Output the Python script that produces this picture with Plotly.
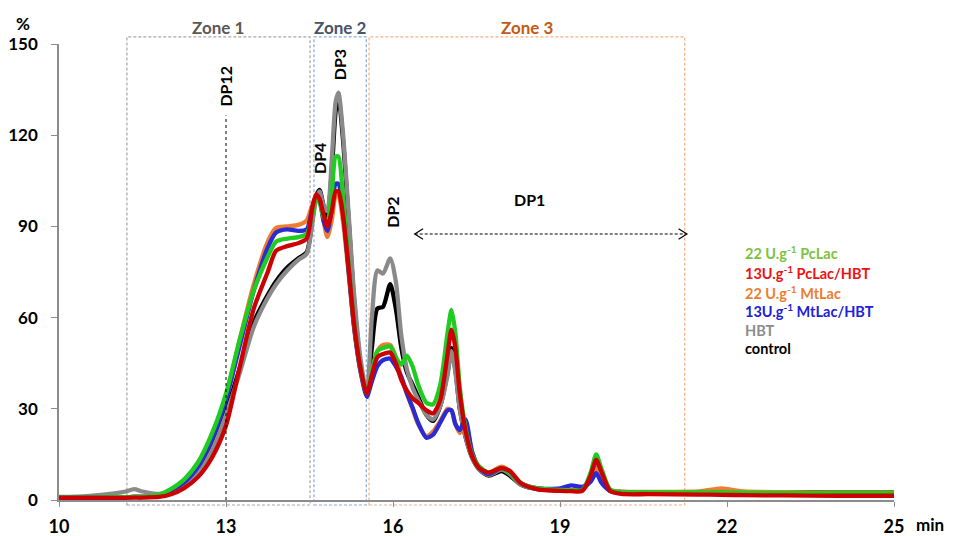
import plotly.graph_objects as go

# ---------------- data ----------------
time_min = [10.0, 10.5, 11.0, 11.2, 11.35, 11.5, 11.8, 12.0, 12.25, 12.5, 12.75, 13.0, 13.25, 13.5,
            13.75, 13.9, 14.1, 14.3, 14.45, 14.55, 14.62, 14.68, 14.75, 14.82, 14.9, 14.97, 15.02,
            15.1, 15.2, 15.3, 15.42, 15.53, 15.62, 15.72, 15.82, 15.95, 16.05, 16.15, 16.25, 16.35,
            16.45, 16.6, 16.72, 16.85, 16.98, 17.05, 17.12, 17.2, 17.3, 17.42, 17.55, 17.72, 17.95,
            18.1, 18.3, 18.6, 19.0, 19.2, 19.4, 19.55, 19.65, 19.75, 19.9, 20.1, 20.6, 21.5, 21.9,
            22.3, 23.0, 24.0, 25.0]

hbt = [1.0, 1.3, 2.2, 2.8, 3.6, 2.8, 2.0, 2.6, 5.0, 9.0, 16.5, 28.0, 42.0, 57.0,
       66.5, 71.0, 75.5, 79.0, 81.0, 91.0, 99.0, 101.5, 97.0, 95.0, 112.0, 131.0, 134.0,
       121.0, 95.0, 68.0, 46.0, 35.0, 60.0, 75.5, 74.5, 79.5, 72.0, 54.0, 43.0, 37.0,
       33.0, 28.0, 26.5, 31.0, 41.0, 49.0, 42.0, 30.0, 21.0, 14.0, 10.0, 8.2, 10.0,
       8.5, 5.0, 3.7, 3.3, 3.2, 3.3, 7.0, 11.0, 8.0, 3.0, 2.5, 2.5, 2.4, 2.4,
       2.4, 2.3, 2.3, 2.3]

control = [0.8, 0.8, 0.9, 0.9, 1.0, 1.0, 1.3, 2.2, 4.8, 9.5, 17.0, 29.0, 43.5, 58.5,
           67.5, 72.0, 76.5, 79.5, 81.5, 92.0, 100.0, 102.0, 97.0, 93.0, 108.0, 128.0, 132.5,
           119.0, 93.0, 66.0, 44.0, 34.0, 50.0, 63.0, 63.5, 71.0, 63.0, 50.0, 42.0, 38.0,
           34.0, 28.0, 26.0, 31.0, 42.0, 50.0, 43.0, 30.0, 21.0, 14.0, 10.0, 8.0, 9.5,
           8.0, 5.0, 3.6, 3.3, 3.2, 3.3, 7.0, 11.5, 8.0, 3.0, 2.7, 2.6, 2.5, 2.5,
           2.5, 2.6, 2.6, 2.6]

mtlac = [0.8, 0.8, 0.9, 0.9, 1.0, 1.0, 1.4, 3.2, 6.2, 11.5, 21.0, 34.0, 53.0, 71.0,
         85.0, 89.5, 90.0, 90.5, 92.0, 97.0, 100.0, 99.0, 92.0, 86.5, 92.0, 100.0, 100.0,
         92.0, 75.0, 57.0, 42.0, 35.0, 42.0, 49.0, 51.0, 51.0, 47.0, 40.0, 35.0, 30.0,
         25.0, 21.0, 22.5, 26.0, 30.0, 29.5, 25.0, 22.0, 26.0, 15.5, 10.5, 9.0, 11.0,
         9.5, 5.5, 3.8, 3.3, 3.2, 3.3, 6.5, 10.0, 7.0, 3.0, 2.7, 2.7, 2.8, 3.8,
         2.8, 2.6, 2.5, 2.5]

mtlac_hbt = [0.8, 0.8, 0.9, 0.9, 1.0, 1.0, 1.4, 3.0, 5.8, 11.0, 20.0, 33.0, 51.0, 69.0,
             83.0, 88.0, 89.0, 88.5, 89.0, 96.0, 100.0, 99.0, 92.0, 88.5, 96.0, 104.0, 104.0,
             95.0, 76.0, 57.0, 42.0, 34.0, 39.0, 44.0, 46.0, 46.5, 44.0, 40.5, 35.0, 30.5,
             25.5, 20.5, 21.5, 25.5, 29.5, 29.5, 25.0, 23.0, 26.5, 16.0, 10.5, 8.5, 10.5,
             9.0, 5.5, 3.8, 3.8, 4.8, 4.3, 6.0, 8.8, 5.5, 3.0, 2.4, 2.3, 2.3, 2.3,
             2.2, 2.1, 2.0, 2.0]

pclac = [0.8, 0.8, 0.9, 0.9, 1.0, 1.0, 1.8, 3.5, 6.8, 12.5, 22.0, 35.0, 53.0, 69.0,
         80.0, 85.0, 86.0, 86.5, 87.5, 94.0, 99.0, 98.0, 93.0, 92.0, 101.0, 113.0, 113.0,
         100.0, 78.0, 58.0, 43.0, 35.0, 42.0, 49.0, 50.0, 50.5, 47.0, 44.5, 47.5, 44.0,
         38.0, 32.0, 31.5, 38.0, 55.0, 62.5, 55.0, 37.0, 24.0, 15.0, 11.0, 9.0, 10.5,
         9.0, 5.5, 3.8, 3.3, 3.2, 3.3, 9.0, 15.0, 10.0, 3.5, 2.6, 2.5, 2.5, 2.5,
         2.4, 2.3, 2.3, 2.3]

pclac_hbt = [0.7, 0.7, 0.7, 0.7, 0.8, 0.8, 1.0, 1.8, 3.9, 7.6, 14.0, 24.5, 44.0, 63.0,
             75.0, 82.0, 83.5, 84.5, 86.0, 96.0, 100.5, 99.0, 94.0, 90.0, 95.0, 101.5, 101.5,
             94.0, 77.0, 58.0, 43.0, 35.0, 41.0, 47.0, 48.0, 48.5, 45.0, 39.5, 36.0, 33.5,
             32.0, 29.5, 28.5, 33.0, 48.0, 56.0, 50.0, 35.0, 23.0, 14.5, 10.5, 9.0, 10.5,
             9.5, 5.5, 3.5, 3.0, 2.9, 3.0, 8.0, 13.2, 9.0, 3.0, 2.0, 1.9, 1.8, 1.7,
             1.6, 1.5, 1.4, 1.4]

# drawing order: first is at the bottom
series_names = ["control", "HBT", "22 U.g<sup>-1</sup> MtLac", "13U.g<sup>-1</sup> MtLac/HBT",
                "22 U.g<sup>-1</sup> PcLac", "13U.g<sup>-1</sup> PcLac/HBT"]
series_values = [control, hbt, mtlac, mtlac_hbt, pclac, pclac_hbt]
line_colors = ["#000000", "#8a8a8a", "#ed7d31", "#2b2bd6", "#1fcc1f", "#cc0000"]

legend_order = [4, 5, 2, 3, 1, 0]
legend_text_colors = {0: "#000000", 1: "#8c8c8c", 2: "#ed7d31", 3: "#2020d8", 4: "#7cc242", 5: "#ee1111"}

x_ticks = [10, 13, 16, 19, 22, 25]
y_ticks = [0, 30, 60, 90, 120, 150]

zones = [("Zone 1", 11.22, 14.51, "#a6a6a6", "#595959"),
         ("Zone 2", 14.58, 15.52, "#8eaadb", "#44546a"),
         ("Zone 3", 15.57, 21.24, "#f4b183", "#c55a11")]

dp_labels = [("DP12", 13.0, 136.0, -90), ("DP3", 15.03, 143.0, -90), ("DP4", 14.67, 112.5, -90),
             ("DP2", 16.0, 94.5, -90), ("DP1", 18.46, 98.7, 0)]

FONT = "Lato"

fig = go.Figure()
for name, vals, col in zip(series_names, series_values, line_colors):
    fig.add_trace(go.Scatter(x=time_min, y=vals, mode="lines", name=name,
                             line=dict(color=col, width=4.3, shape="spline", smoothing=0.7),
                             showlegend=False, hoverinfo="x+y+name"))

for label, x0, x1, lc, tc in zones:
    fig.add_shape(type="rect", xref="x", yref="paper", x0=x0, x1=x1, y0=-0.011, y1=1.0155,
                  line=dict(color=lc, width=1.2, dash="3px,2px"), layer="below")
    fig.add_annotation(x=(x0 + x1) / 2, xref="x", y=1.037, yref="paper", text="<b>%s</b>" % label,
                       showarrow=False, font=dict(family=FONT, size=17, color=tc),
                       xanchor="center", yanchor="middle")

fig.add_shape(type="line", xref="x", yref="y", x0=13.0, x1=13.0, y0=0, y1=126.5,
              line=dict(color="#000000", width=1, dash="dot"))

fig.add_shape(type="line", xref="x", yref="y", x0=16.39, x1=21.28, y0=87.5, y1=87.5,
              line=dict(color="#000000", width=1.2, dash="3px,2px"))
fig.add_shape(type="path", xref="x", yref="y",
              path="M 16.54 89.2 L 16.39 87.5 L 16.54 85.8", line=dict(color="#000000", width=1.2))
fig.add_shape(type="path", xref="x", yref="y",
              path="M 21.13 89.2 L 21.28 87.5 L 21.13 85.8", line=dict(color="#000000", width=1.2))

for txt, xx, yy, ang in dp_labels:
    fig.add_annotation(x=xx, y=yy, xref="x", yref="y", text="<b>%s</b>" % txt, showarrow=False,
                       textangle=ang, font=dict(family=FONT, size=16, color="#000000"),
                       xanchor="center", yanchor="middle")

legend_y = [81.3, 75.0, 68.4, 62.2, 55.9, 49.7]
for yy, idx in zip(legend_y, legend_order):
    fig.add_annotation(x=22.28, y=yy, xref="x", yref="y", text="<b>%s</b>" % series_names[idx],
                       showarrow=False, xanchor="left", yanchor="middle",
                       font=dict(family=FONT, size=14.5, color=legend_text_colors[idx]))

fig.add_annotation(x=(23 - 59) / 835, y=(500 - 23) / 456, xref="paper", yref="paper",
                   text="<b>%</b>", showarrow=False, xanchor="center", yanchor="middle",
                   font=dict(family=FONT, size=17, color="#000000"))
fig.add_annotation(x=(930 - 59) / 835, y=(500 - 524) / 456, xref="paper", yref="paper",
                   text="<b>min</b>", showarrow=False, xanchor="center", yanchor="middle",
                   font=dict(family=FONT, size=17, color="#000000"))

# the page body adds an 8 px offset, so the figure is sized/margined to compensate
fig.update_layout(
    width=954, height=528,
    margin=dict(l=51, r=68, t=36, b=36, pad=0, autoexpand=False),
    paper_bgcolor="white", plot_bgcolor="white",
    font=dict(family=FONT, size=17, color="#000000"),
    xaxis=dict(range=[10, 25], tickvals=x_ticks, ticktext=["<b>%d</b>" % v for v in x_ticks],
               showgrid=False, zeroline=False, showline=True, linecolor="#8c8c8c", linewidth=1.5,
               ticks="outside", ticklen=5, tickcolor="#8c8c8c", tickwidth=1.2, automargin=False,
               tickfont=dict(family=FONT, size=18, color="#000000"), ticklabelstandoff=5),
    yaxis=dict(range=[0, 150], tickvals=y_ticks, ticktext=["<b>%d</b>" % v for v in y_ticks],
               showgrid=False, zeroline=False, showline=True, linecolor="#8c8c8c", linewidth=1.5,
               ticks="outside", ticklen=6, tickcolor="#8c8c8c", tickwidth=1.2, automargin=False,
               tickfont=dict(family=FONT, size=17, color="#000000"), ticklabelstandoff=10),
)

fig.write_html("out.html")
